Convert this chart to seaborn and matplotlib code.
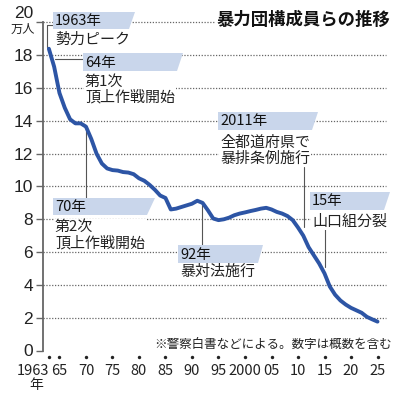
import matplotlib
matplotlib.use("Agg")
import numpy as np
import pandas as pd
import seaborn as sns
import matplotlib.pyplot as plt
from matplotlib.patches import Polygon
from matplotlib.lines import Line2D
from matplotlib.transforms import Affine2D, blended_transform_factory

# ---- data (万人) ----
years = list(range(1963, 2026))
members = [18.4, 17.3, 15.7, 14.8, 14.1, 13.85, 13.85, 13.65, 12.9, 12.0,
           11.4, 11.1, 11.0, 10.97, 10.88, 10.85, 10.75, 10.5, 10.35, 10.1,
           9.8, 9.45, 9.3, 8.6, 8.65, 8.75, 8.85, 8.95, 9.13, 9.0,
           8.55, 8.05, 7.95, 8.0, 8.1, 8.25, 8.35, 8.42, 8.5, 8.57,
           8.65, 8.7, 8.6, 8.45, 8.35, 8.2, 7.95, 7.5, 7.0, 6.3,
           5.8, 5.3, 4.7, 3.9, 3.4, 3.05, 2.8, 2.6, 2.45, 2.3,
           2.05, 1.9, 1.76]
xtick_years = [1963, 1965, 1970, 1975, 1980, 1985, 1990, 1995, 2000, 2005,
               2010, 2015, 2020, 2025]
xtick_labels = ["1963", "65", "70", "75", "80", "85", "90", "95", "2000",
                "05", "10", "15", "20", "25"]
ytick_values = list(range(0, 22, 2))
ytick_labels = [str(v) for v in range(0, 20, 2)] + [""]

title = "暴力団構成員らの推移"
note = "※警察白書などによる。数字は概数を含む"

events = [
    dict(year="1963年", body="勢力ピーク"),
    dict(year="64年", body="第1次\n頂上作戦開始"),
    dict(year="70年", body="第2次\n頂上作戦開始"),
    dict(year="92年", body="暴対法施行"),
    dict(year="2011年", body="全都道府県で\n暴排条例施行"),
    dict(year="15年", body="山口組分裂"),
]
# layout (pixels from top-left): banner left, top, bottom, right-top, right-bottom,
# body centre y, leader path
layout = [
    dict(l=53, t=12, b=29, rt=135, rb=129, by=40, lead=[(53, 25), (47.3, 25), (47.3, 47)]),
    dict(l=83, t=53, b=71, rt=183, rb=177, by=89.5, lead=[(55, 59), (83, 59)]),
    dict(l=53, t=198, b=215, rt=155, rb=147, by=235, lead=[(85.5, 131), (85.5, 198)]),
    dict(l=178, t=245, b=263, rt=263, rb=258, by=272, lead=[(201.7, 205), (201.7, 245)]),
    dict(l=218, t=112, b=130, rt=318, rb=312, by=151, lead=[(303.5, 167), (303.5, 227)]),
    dict(l=310, t=192, b=210, rt=390, rb=384, by=222, lead=[(325, 227), (325, 267)]),
]

sns.set_theme(style="white")
plt.rcParams['font.family'] = ['Noto Sans CJK JP', 'DejaVu Sans']

LINE = "#2d55a5"
BANNER = "#c9d6eb"
TXT = "#222222"
GRID = "#666666"
NARROW = ['Liberation Sans Narrow', 'Noto Sans CJK JP', 'DejaVu Sans']

fig = plt.figure(figsize=(4, 4), dpi=100)
fig.patch.set_facecolor("white")
ax = fig.add_axes([0.10625, 0.12375, 0.85875, 0.82])
ax.set_facecolor("white")

df = pd.DataFrame({"year": years, "members": members})
sns.lineplot(data=df, x="year", y="members", ax=ax, color=LINE, linewidth=2.8,
             zorder=3, solid_capstyle="round", solid_joinstyle="round")

ax.set_xlim(1961.8, 2026.6)
ax.set_ylim(0, 20)

for v in ytick_values[1:]:
    ax.axhline(v, color=GRID, linewidth=0.9, linestyle=(0, (1, 1.3)),
               zorder=1, clip_on=False)

for s in ["top", "right", "bottom"]:
    ax.spines[s].set_visible(False)
ax.spines["left"].set_color("#666666")
ax.spines["left"].set_linewidth(1.3)

ax.set_yticks(ytick_values)
ax.set_yticklabels(ytick_labels, family=['Liberation Sans', 'DejaVu Sans'],
                   fontsize=12.5, color=TXT)
ax.tick_params(axis="y", direction="out", length=4.7, width=1.0,
               color="#666666", pad=2, left=True)

ax.set_xticks(xtick_years)
ax.set_xticklabels(xtick_labels, family=NARROW, fontsize=10.5, color=TXT)
ax.tick_params(axis="x", length=0, pad=9.5, bottom=True)
ax.get_xticklabels()[0].set_horizontalalignment("right")
ax.set_xlabel("")
ax.set_ylabel("")

# dots under x ticks
bt = blended_transform_factory(ax.transData, ax.transAxes)
ax.scatter(xtick_years, [-0.019] * len(xtick_years), s=6, color="#222222",
           transform=bt, clip_on=False, zorder=5, linewidths=0)

# pixel transform (x right, y down, 400x400)
T = Affine2D().scale(1 / 400, -1 / 400).translate(0, 1) + fig.transFigure

ax.text(33.5, 13.5, "20", transform=T, ha="right", va="center",
        family=['Liberation Sans', 'DejaVu Sans'], fontsize=12.5, color=TXT)
ax.text(22.5, 29, "万人", transform=T, ha="center", va="center",
        fontsize=8.8, color=TXT)
ax.text(36, 385, "年", transform=T, ha="center", va="center",
        fontsize=10, color=TXT)

ax.text(303.5, 20, title, transform=T, ha="center", va="center",
        fontsize=12.5, fontweight="bold", color="#111111", zorder=6,
        bbox=dict(facecolor="white", edgecolor="none", pad=1.5))
ax.text(392, 344, note, transform=T, ha="right", va="center",
        fontsize=9, color=TXT, zorder=6)

for ev, lo in zip(events, layout):
    poly = Polygon([(lo["l"], lo["t"]), (lo["rt"], lo["t"]),
                    (lo["rb"], lo["b"]), (lo["l"], lo["b"])],
                   closed=True, facecolor=BANNER, edgecolor="none",
                   transform=T, clip_on=False, zorder=4)
    ax.add_patch(poly)
    ax.text(lo["l"] + 2, (lo["t"] + lo["b"]) / 2 + 0.5, ev["year"], transform=T,
            ha="left", va="center", family=NARROW, fontsize=10.5,
            color="#111111", zorder=6, clip_on=False)
    ax.text(lo["l"] + 2, lo["by"], ev["body"], transform=T, ha="left",
            va="center", fontsize=10.8, color=TXT, linespacing=1.12,
            zorder=6, clip_on=False,
            bbox=dict(facecolor="white", edgecolor="none", pad=0.8))
    xs, ys = zip(*lo["lead"])
    ax.add_line(Line2D(xs, ys, transform=T, color="#555555", linewidth=0.8,
                       zorder=2.5, clip_on=False))

fig.savefig("out.png", dpi=100, facecolor="white")
